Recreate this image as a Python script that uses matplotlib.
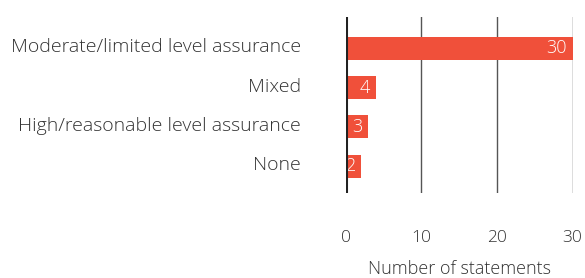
import matplotlib
matplotlib.use("Agg")
import matplotlib.pyplot as plt
import matplotlib.transforms as mtransforms

categories = ["Moderate/limited level assurance", "Mixed", "High/reasonable level assurance", "None"]
values = [30, 4, 3, 2]
xticks = [0, 10, 20, 30]
xlabel = "Number of statements"

plt.rcParams['font.family'] = ['Open Sans', 'DejaVu Sans']
plt.rcParams['font.weight'] = 'light'

fig = plt.figure(figsize=(5.85, 2.78), dpi=100)
ax = fig.add_axes([345.5/585, 1 - 193/278, (572.5 - 345.5)/585, (193 - 16.7)/278])

bar_color = "#F0503A"
txt_color = "#333333"
fs = 12.5
y = list(range(len(categories)))
ax.barh(y, values, height=0.59, color=bar_color, zorder=2)
for yi, v in zip(y, values):
    ax.annotate(str(v), (v, yi), xytext=(-4, 0), textcoords="offset points",
                ha="right", va="center", color="white", fontsize=13, fontweight="light", zorder=3)

ax.set_ylim(3.68, -0.80)
ax.set_xlim(0, 30)
ax.set_xticks(xticks)
ax.set_yticks(y)
ax.set_yticklabels(categories, fontsize=14, color=txt_color, fontweight="light")
ax.tick_params(axis="y", length=0, pad=32)
ax.tick_params(axis="x", length=0, pad=27, labelsize=fs, labelcolor=txt_color)
shift = mtransforms.ScaledTranslation(0, 3/100, fig.dpi_scale_trans)
for lab in ax.get_yticklabels():
    lab.set_transform(lab.get_transform() + shift)
for s in ax.spines.values():
    s.set_visible(False)
for xt in xticks[1:]:
    ax.axvline(xt, color="#555555", linewidth=1, zorder=1)
ax.axvline(0, color="#222222", linewidth=2.2, zorder=4)
ax.set_xlabel(xlabel, fontsize=13, color=txt_color, fontweight="light", labelpad=10)

fig.savefig("out.png", dpi=100)
